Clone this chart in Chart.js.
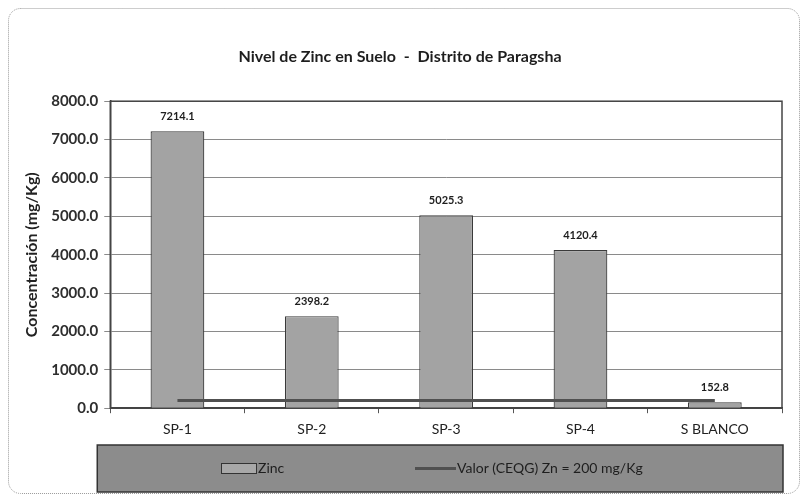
<!DOCTYPE html>
<html>
<head>
<meta charset="utf-8">
<script src="https://cdn.jsdelivr.net/npm/chart.js@4"></script>
<style>
  body { margin: 0; background: #fff; }
  canvas { display: block; }
</style>
</head>
<body>
<canvas id="zincChart" width="808" height="498"></canvas>
<script>
/* Datos del grafico */
const puntos = ['SP-1', 'SP-2', 'SP-3', 'SP-4', 'S BLANCO'];
const zinc = [7214.1, 2398.2, 5025.3, 4120.4, 152.8];
const limite = [200, 200, 200, 200, 200];
const yTicks = [0, 1000, 2000, 3000, 4000, 5000, 6000, 7000, 8000];

const fuente = 'Lato, "Open Sans", sans-serif';

/* Fondo blanco con marco redondeado */
const marco = {
    id: 'marco',
    beforeDraw(chart) {
        const ctx = chart.ctx;
        ctx.save();
        ctx.fillStyle = '#ffffff';
        ctx.fillRect(0, 0, chart.width, chart.height);
        ctx.strokeStyle = '#9a9a9a';
        ctx.lineWidth = 1;
        ctx.setLineDash([1, 1]);
        ctx.beginPath();
        ctx.roundRect(8.5, 8.5, 791, 485, 12);
        ctx.stroke();
        ctx.restore();
    },
    beforeDatasetsDraw(chart) {
        /* borde del area de trazado */
        const a = chart.chartArea;
        const ctx = chart.ctx;
        ctx.save();
        ctx.strokeStyle = '#444';
        ctx.lineWidth = 1.5;
        ctx.strokeRect(a.left, a.top, a.right - a.left, a.bottom - a.top);
        ctx.restore();
    }
};

/* Etiquetas de valor sobre las barras */
const etiquetas = {
    id: 'etiquetas',
    afterDatasetsDraw(chart) {
        const ctx = chart.ctx;
        const meta = chart.getDatasetMeta(0);
        ctx.save();
        ctx.font = 'bold 11px ' + fuente;
        ctx.fillStyle = '#1e1e1e';
        ctx.textAlign = 'center';
        ctx.textBaseline = 'middle';
        meta.data.forEach((bar, i) => {
            ctx.fillText(zinc[i].toFixed(1), bar.x, bar.y - 15);
        });
        ctx.restore();
    }
};

/* Leyenda en recuadro gris */
const leyenda = {
    id: 'leyenda',
    afterDraw(chart) {
        const ctx = chart.ctx;
        const a = chart.chartArea;
        const ds = chart.data.datasets;
        const x0 = a.left - 13, y0 = 445, w = a.right - x0 + 1, h = 47;
        ctx.save();
        ctx.fillStyle = '#8c8c8c';
        ctx.fillRect(x0, y0, w, h);
        ctx.strokeStyle = '#333';
        ctx.lineWidth = 1.5;
        ctx.strokeRect(x0, y0, w, h);

        const cy = y0 + h / 2;
        ctx.font = '14px ' + fuente;
        ctx.textBaseline = 'middle';
        ctx.textAlign = 'left';

        // Zinc
        ctx.fillStyle = '#a8a8a8';
        ctx.fillRect(221, cy - 5, 35, 10);
        ctx.strokeStyle = '#333';
        ctx.lineWidth = 1;
        ctx.strokeRect(221.5, cy - 5, 35, 10);
        ctx.fillStyle = '#1e1e1e';
        ctx.fillText(ds[0].label, 258, cy);

        // Linea limite
        ctx.strokeStyle = ds[1].borderColor;
        ctx.lineWidth = 3;
        ctx.beginPath();
        ctx.moveTo(415, cy);
        ctx.lineTo(456, cy);
        ctx.stroke();
        ctx.fillText(ds[1].label, 457, cy);
        ctx.restore();
    }
};

new Chart(document.getElementById('zincChart'), {
    type: 'bar',
    data: {
        labels: puntos,
        datasets: [{
            label: 'Zinc',
            data: zinc,
            backgroundColor: '#a3a3a3',
            borderColor: '#3a3a3a',
            borderWidth: 1.2,
            barPercentage: 0.5,
            categoryPercentage: 0.8,
            order: 1
        }, {
            type: 'line',
            label: 'Valor (CEQG) Zn = 200 mg/Kg',
            data: limite,
            borderColor: '#505050',
            borderWidth: 3,
            pointRadius: 0,
            fill: false,
            order: 0
        }]
    },
    options: {
        responsive: false,
        devicePixelRatio: 1,
        animation: false,
        layout: { padding: { left: 18, right: 26, top: 0, bottom: 52 } },
        plugins: {
            legend: { display: false },
            tooltip: { enabled: false },
            title: {
                display: true,
                text: 'Nivel de Zinc en Suelo  -  Distrito de Paragsha',
                color: '#1e1e1e',
                font: { family: fuente, size: 16, weight: 'bold' },
                padding: { top: 47, bottom: 35 }
            }
        },
        scales: {
            x: {
                grid: { offset: true, drawOnChartArea: false, color: '#555', tickLength: 5 },
                border: { color: '#444', width: 1.5 },
                ticks: { color: '#222', font: { family: fuente, size: 14 }, padding: 8 }
            },
            y: {
                min: 0,
                max: 8000,
                afterBuildTicks(axis) { axis.ticks = yTicks.map(v => ({ value: v })); },
                grid: { color: '#8a8a8a', tickLength: 6, lineWidth: 1, borderDash: [2, 1] },
                border: { color: '#444', width: 1.5 },
                ticks: {
                    color: '#2e2e2e',
                    font: { family: fuente, size: 15, weight: 'bold' },
                    padding: 6,
                    callback: v => Number(v).toFixed(1)
                },
                title: {
                    display: true,
                    text: 'Concentración (mg/Kg)',
                    color: '#222',
                    font: { family: fuente, size: 16, weight: 'bold' },
                    padding: { bottom: 4 }
                }
            }
        }
    },
    plugins: [marco, etiquetas, leyenda]
});
</script>
</body>
</html>
